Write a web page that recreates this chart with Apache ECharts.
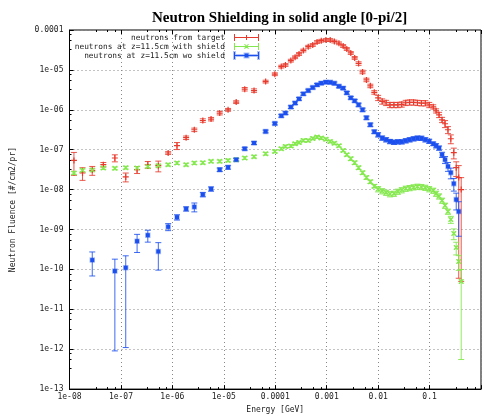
<!DOCTYPE html>
<html>
<head>
<meta charset="utf-8">
<script src="https://cdn.jsdelivr.net/npm/echarts@6/dist/echarts.min.js"></script>
<style>html,body{margin:0;padding:0;background:#fff;overflow:hidden;}#c{width:484px;height:419px;}</style>
</head>
<body>
<div id="c"></div>
<script>
// Energy bins [GeV]
const energy = [1.22e-8, 1.79e-8, 2.77e-8, 4.55e-8, 7.62e-8, 1.24e-7, 2.06e-7, 3.33e-7, 5.33e-7, 8.28e-7,
  1.23e-6, 1.85e-6, 2.67e-6, 3.91e-6, 5.65e-6, 8.32e-6, 1.21e-5, 1.74e-5, 2.55e-5, 3.87e-5,
  6.50e-5, 9.82e-5, 1.31e-4, 1.58e-4, 2.01e-4, 2.43e-4, 2.90e-4, 3.52e-4, 4.38e-4, 5.36e-4,
  6.50e-4, 7.85e-4, 9.66e-4, 1.17e-3, 1.41e-3, 1.73e-3, 2.09e-3, 2.46e-3, 2.94e-3, 3.50e-3,
  4.17e-3, 4.98e-3, 5.93e-3, 7.06e-3, 8.43e-3, 1.00e-2, 1.20e-2, 1.43e-2, 1.70e-2, 2.03e-2,
  2.42e-2, 2.88e-2, 3.44e-2, 4.10e-2, 4.89e-2, 5.82e-2, 6.95e-2, 8.28e-2, 9.86e-2, 0.118,
  0.134, 0.153, 0.175, 0.200, 0.228, 0.259, 0.296, 0.330, 0.369, 0.412];

// neutrons from target
const fromTarget = [5.40e-8, 2.62e-8, 3.04e-8, 4.22e-8, 6.20e-8, 2.08e-8, 3.16e-8, 4.22e-8, 3.98e-8, 8.27e-8,
  1.26e-7, 2.00e-7, 3.16e-7, 5.40e-7, 5.85e-7, 8.27e-7, 1.00e-6, 1.56e-6, 3.29e-6, 3.04e-6,
  5.10e-6, 7.81e-6, 1.21e-5, 1.33e-5, 1.71e-5, 2.08e-5, 2.51e-5, 3.07e-5, 3.82e-5, 4.22e-5,
  5.01e-5, 5.40e-5, 5.62e-5, 5.62e-5, 5.16e-5, 4.65e-5, 3.98e-5, 3.35e-5, 2.66e-5, 2.00e-5,
  1.45e-5, 8.91e-6, 5.62e-6, 3.98e-6, 2.74e-6, 2.00e-6, 1.63e-6, 1.50e-6, 1.33e-6, 1.33e-6,
  1.33e-6, 1.37e-6, 1.50e-6, 1.54e-6, 1.54e-6, 1.50e-6, 1.47e-6, 1.47e-6, 1.33e-6, 1.19e-6,
  9.44e-7, 7.50e-7, 5.62e-7, 4.47e-7, 3.16e-7, 1.88e-7, 8.41e-8, 3.55e-8, 2.00e-8, 1.00e-8];
const fromTargetErr = [0.58, 0.35, 0.25, 0.13, 0.2, 0.25, 0.2, 0.2, 0.3, 0.08,
  0.2, 0.1, 0.1, 0.1, 0.1, 0.1, 0.08, 0.08, 0.1, 0.1,
  0.08, 0.08, 0.08, 0.08, 0.08, 0.08, 0.08, 0.08, 0.08, 0.08,
  0.08, 0.08, 0.08, 0.08, 0.08, 0.08, 0.08, 0.08, 0.08, 0.08,
  0.1, 0.1, 0.1, 0.1, 0.1, 0.15, 0.15, 0.15, 0.15, 0.15,
  0.15, 0.15, 0.15, 0.15, 0.15, 0.15, 0.15, 0.15, 0.15, 0.12,
  0.12, 0.15, 0.15, 0.2, 0.2, 0.25, 0.3, 0.4, 0.997, 0.995];

// neutrons at z=11.5cm with shield
const withShield = [2.62e-8, 3.04e-8, 3.11e-8, 3.49e-8, 3.41e-8, 3.55e-8, 3.49e-8, 3.82e-8, 3.98e-8, 4.22e-8,
  4.65e-8, 4.22e-8, 4.65e-8, 4.73e-8, 5.10e-8, 5.10e-8, 5.40e-8, 5.62e-8, 6.20e-8, 6.68e-8,
  7.94e-8, 9.07e-8, 1.06e-7, 1.21e-7, 1.24e-7, 1.41e-7, 1.52e-7, 1.71e-7, 1.71e-7, 1.92e-7,
  2.08e-7, 1.96e-7, 1.83e-7, 1.61e-7, 1.45e-7, 1.26e-7, 9.60e-8, 7.50e-8, 5.96e-8, 4.73e-8,
  3.55e-8, 2.66e-8, 2.00e-8, 1.58e-8, 1.22e-8, 1.03e-8, 9.17e-9, 8.41e-9, 7.72e-9, 7.94e-9,
  8.91e-9, 9.72e-9, 1.06e-8, 1.10e-8, 1.15e-8, 1.19e-8, 1.17e-8, 1.12e-8, 1.03e-8, 9.44e-9,
  7.94e-9, 6.80e-9, 5.31e-9, 3.98e-9, 2.82e-9, 1.78e-9, 7.94e-10, 3.55e-10, 1.58e-10, 5.01e-11];
const withShieldErr = [0.08, 0.08, 0.08, 0.08, 0.08, 0.08, 0.08, 0.08, 0.08, 0.08,
  0.08, 0.08, 0.08, 0.08, 0.08, 0.08, 0.08, 0.08, 0.08, 0.08,
  0.08, 0.08, 0.08, 0.08, 0.08, 0.08, 0.08, 0.08, 0.08, 0.08,
  0.08, 0.08, 0.08, 0.08, 0.08, 0.08, 0.08, 0.08, 0.1, 0.1,
  0.1, 0.1, 0.1, 0.1, 0.1, 0.15, 0.15, 0.15, 0.15, 0.15,
  0.15, 0.15, 0.15, 0.15, 0.15, 0.15, 0.15, 0.15, 0.15, 0.15,
  0.15, 0.15, 0.15, 0.15, 0.15, 0.2, 0.3, 0.35, 0.4, 0.989];

// neutrons at z=11.5cm wo shield
const woShield = [null, null, 1.71e-10, null, 9.07e-11, 1.10e-10, 5.10e-10, 7.20e-10, 2.82e-10, 1.17e-9,
  2.03e-9, 3.29e-9, 3.69e-9, 7.50e-9, 1.04e-8, 3.16e-8, 3.61e-8, 5.62e-8, 1.06e-7, 1.47e-7,
  2.87e-7, 4.54e-7, 7.08e-7, 8.27e-7, 1.17e-6, 1.47e-6, 1.88e-6, 2.51e-6, 3.04e-6, 3.61e-6,
  4.22e-6, 4.65e-6, 4.93e-6, 4.87e-6, 4.60e-6, 3.87e-6, 3.49e-6, 2.66e-6, 2.00e-6, 1.68e-6,
  1.33e-6, 1.00e-6, 6.31e-7, 4.22e-7, 2.82e-7, 2.37e-7, 1.96e-7, 1.78e-7, 1.61e-7, 1.54e-7,
  1.58e-7, 1.58e-7, 1.68e-7, 1.78e-7, 1.88e-7, 1.96e-7, 1.94e-7, 1.78e-7, 1.63e-7, 1.41e-7,
  1.26e-7, 1.10e-7, 7.50e-8, 5.62e-8, 3.82e-8, 2.66e-8, 1.41e-8, 5.62e-9, 2.82e-9, null];
const woShieldErr = [null, null, 0.6, null, 0.99, 0.99, 0.48, 0.33, 0.66, 0.2,
  0.15, 0.12, 0.25, 0.12, 0.12, 0.1, 0.1, 0.08, 0.08, 0.08,
  0.08, 0.08, 0.08, 0.08, 0.08, 0.08, 0.08, 0.08, 0.08, 0.08,
  0.08, 0.08, 0.08, 0.08, 0.08, 0.08, 0.08, 0.08, 0.08, 0.08,
  0.1, 0.1, 0.1, 0.1, 0.1, 0.12, 0.12, 0.12, 0.12, 0.12,
  0.12, 0.12, 0.12, 0.12, 0.12, 0.12, 0.12, 0.12, 0.12, 0.1,
  0.12, 0.12, 0.15, 0.2, 0.25, 0.3, 0.35, 0.45, 0.76, null];

const seriesNames = ['neutrons from target', 'neutrons at z=11.5cm with shield', 'neutrons at z=11.5cm wo shield'];
const colors = ['#e83a2c', '#84e84e', '#1c50ee'];
const barColors = ['rgba(232,58,44,0.85)', 'rgba(132,232,78,0.9)', 'rgba(28,80,238,0.85)'];

const FONT = 'DejaVu Sans Mono';

function pts(vals) {
  const out = [];
  vals.forEach((v, i) => { if (v != null) out.push([energy[i], v]); });
  return out;
}
function errs(vals, rel) {
  const out = [];
  vals.forEach((v, i) => { if (v != null && rel[i] != null) out.push([energy[i], v * (1 - rel[i]), v * (1 + rel[i])]); });
  return out;
}
function errRenderer(color) {
  return function (params, api) {
    const x = api.value(0);
    const p1 = api.coord([x, api.value(2)]);
    const p2 = api.coord([x, api.value(1)]);
    const w = 3;
    const st = { stroke: color, lineWidth: 1 };
    return {
      type: 'group', children: [
        { type: 'line', shape: { x1: p1[0], y1: p1[1], x2: p2[0], y2: p2[1] }, style: st },
        { type: 'line', shape: { x1: p1[0] - w, y1: p1[1], x2: p1[0] + w, y2: p1[1] }, style: st },
        { type: 'line', shape: { x1: p2[0] - w, y1: p2[1], x2: p2[0] + w, y2: p2[1] }, style: st }
      ]
    };
  };
}

function logLabel(v) {
  const e = Math.round(Math.log10(v));
  if (e >= 0) return '';
  if (e >= -4) return String(Number(Math.pow(10, e).toPrecision(1)));
  const n = -e;
  return '1e-' + (n < 10 ? '0' + n : String(n));
}

const symPlus = 'path://M2,0H3V5H2Z M0,2H5V3H0Z';
const symX = 'path://M0,0L1,0L5,4L5,5L4,5L0,1Z M4,0L5,0L5,1L1,5L0,5L0,4Z';
const iconBase = 'M0,0H1V7H0Z M24,0H25V7H24Z M0,3H25V4H0Z';
const icons = [
  'path://' + iconBase + ' M12,1H13V6H12Z',
  'path://' + iconBase + ' M10,1L11,1L15,5.5L14,6Z M14,1L15,1L11,6L10,5.5Z',
  'path://' + iconBase + ' M10.5,1.5H14.5V5.5H10.5Z'
];

const chart = echarts.init(document.getElementById('c'), null, { renderer: 'canvas' });
const axisText = { fontFamily: FONT, fontSize: 8, color: '#222' };

const option = {
  animation: false,
  backgroundColor: '#fff',
  title: {
    text: 'Neutron Shielding in solid angle [0-pi/2]',
    left: 147, top: 6,
    textStyle: { fontFamily: 'Liberation Serif', fontWeight: 'bold', fontSize: 15, color: '#000' }
  },
  legend: {
    orient: 'vertical',
    align: 'right',
    right: 224, top: 33,
    padding: 0,
    itemGap: 0,
    itemWidth: 25, itemHeight: 7,
    textStyle: { fontFamily: FONT, fontSize: 7.8, color: '#222', lineHeight: 9, padding: [0, 4, 0, 0] },
    data: seriesNames.map((n, i) => ({ name: n, icon: icons[i], itemStyle: { color: colors[i] } }))
  },
  grid: { left: 69.5, width: 419.2, top: 30, height: 360, show: true, borderColor: '#000', borderWidth: 1 },
  xAxis: [{
    type: 'log', logBase: 10, min: 1e-8, max: 1, interval: 1,
    name: 'Energy [GeV]', nameLocation: 'middle', nameGap: 16,
    nameTextStyle: axisText,
    axisLine: { lineStyle: { color: '#000', width: 1 } },
    axisTick: { inside: true, length: 4, lineStyle: { color: '#000' } },
    minorTick: { show: true, splitNumber: 4, length: 2, lineStyle: { color: '#000' } },
    axisLabel: Object.assign({ margin: 4, formatter: logLabel }, axisText),
    splitLine: { show: true, lineStyle: { color: '#888', type: [1, 3], width: 1 } }
  }, {
    type: 'log', logBase: 10, min: 1e-8, max: 1, interval: 1, position: 'top',
    axisLine: { show: false },
    axisTick: { inside: true, length: 4, lineStyle: { color: '#000' } },
    minorTick: { show: true, splitNumber: 4, length: 2, lineStyle: { color: '#000' } },
    axisLabel: { show: false }, splitLine: { show: false }
  }],
  yAxis: [{
    type: 'log', logBase: 10, min: 1e-13, max: 1e-4, interval: 1,
    name: 'Neutron Fluence [#/cm2/pr]', nameLocation: 'middle', nameGap: 53, nameRotate: 90,
    nameTextStyle: axisText,
    axisLine: { lineStyle: { color: '#000', width: 1 } },
    axisTick: { inside: true, length: 4, lineStyle: { color: '#000' } },
    minorTick: { show: true, splitNumber: 4, length: 2, lineStyle: { color: '#000' } },
    axisLabel: Object.assign({ margin: 6, formatter: logLabel }, axisText),
    splitLine: { show: true, lineStyle: { color: '#888', type: [1, 3], width: 1 } }
  }],
  series: [
    { name: seriesNames[0], type: 'scatter', symbol: symPlus, symbolSize: 6, data: pts(fromTarget), itemStyle: { color: colors[0], opacity: 1 }, z: 3 },
    { name: seriesNames[1], type: 'scatter', symbol: symX, symbolSize: 5, data: pts(withShield), itemStyle: { color: colors[1], opacity: 1 }, z: 3 },
    { name: seriesNames[2], type: 'scatter', symbol: 'rect', symbolSize: 4, data: pts(woShield), itemStyle: { color: colors[2], borderColor: 'rgba(28,80,238,0.35)', borderWidth: 1.5, opacity: 1 }, z: 3 },
    { name: seriesNames[0], type: 'custom', renderItem: errRenderer(barColors[0]), data: errs(fromTarget, fromTargetErr), encode: { x: 0, y: [1, 2] }, z: 2, itemStyle: { color: colors[0] } },
    { name: seriesNames[1], type: 'custom', renderItem: errRenderer(barColors[1]), data: errs(withShield, withShieldErr), encode: { x: 0, y: [1, 2] }, z: 2, itemStyle: { color: colors[1] } },
    { name: seriesNames[2], type: 'custom', renderItem: errRenderer(barColors[2]), data: errs(woShield, woShieldErr), encode: { x: 0, y: [1, 2] }, z: 2, itemStyle: { color: colors[2] } }
  ]
};
chart.setOption(option);
</script>
</body>
</html>
